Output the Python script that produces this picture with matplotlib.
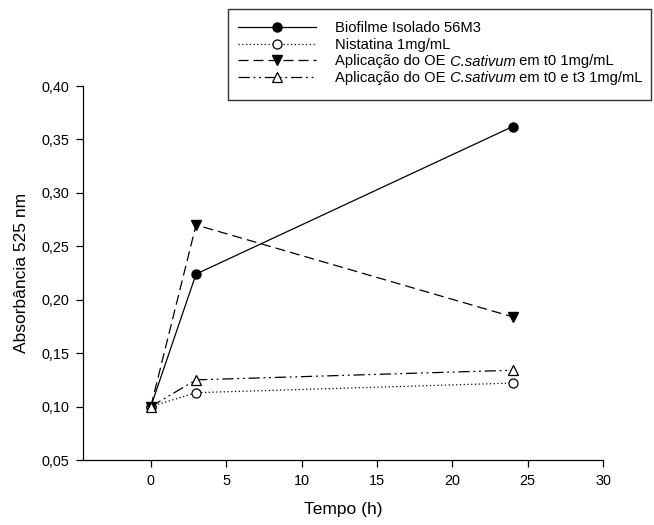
import matplotlib
matplotlib.use("Agg")
import matplotlib.pyplot as plt
from matplotlib.ticker import FuncFormatter
from matplotlib.lines import Line2D
from matplotlib.patches import Rectangle

plt.rcParams['font.family'] = ['Liberation Sans', 'DejaVu Sans']

# Time points (h)
tempo = [0, 3, 24]

# Absorbance at 525 nm for each treatment
biofilme = [0.100, 0.224, 0.362]
nistatina = [0.100, 0.113, 0.122]
oe_t0 = [0.100, 0.270, 0.184]
oe_t0_t3 = [0.100, 0.125, 0.134]

# Legend labels: (plain prefix, italic species name, plain suffix)
labels = [
    ("Biofilme Isolado 56M3", "", ""),
    ("Nistatina 1mg/mL", "", ""),
    ("Aplicação do OE", " C.sativum", " em t0 1mg/mL"),
    ("Aplicação do OE", " C.sativum", " em t0 e t3 1mg/mL"),
]

xticks = [0, 5, 10, 15, 20, 25, 30]
yticks = [0.05, 0.10, 0.15, 0.20, 0.25, 0.30, 0.35, 0.40]

W, H = 654, 525
fig = plt.figure(figsize=(W / 100, H / 100), dpi=100)
ax = fig.add_axes([83 / W, 1 - 460 / H, (603 - 83) / W, (460 - 86) / H])

lw = 0.9
ms = 6.5
styles = [
    dict(color='black', lw=lw, ls='-', marker='o', ms=ms, mfc='black', mec='black'),
    dict(color='black', lw=lw, ls=(0, (1, 2)), marker='o', ms=ms, mfc='white',
         mec='black', mew=0.9),
    dict(color='black', lw=lw, ls=(0, (8, 4)), marker='v', ms=ms + 0.5,
         mfc='black', mec='black'),
    dict(color='black', lw=lw, ls=(0, (9, 3, 1.5, 3, 1.5, 3)), marker='^',
         ms=ms + 0.5, mfc='white', mec='black', mew=0.9),
]
series = [biofilme, nistatina, oe_t0, oe_t0_t3]

for vals, st in zip(series, styles):
    ax.plot(tempo, vals, clip_on=False, zorder=3, **st)

ax.set_xlim(-4.5, 30)
ax.set_ylim(0.05, 0.40)
ax.set_xticks(xticks)
ax.set_yticks(yticks)
ax.yaxis.set_major_formatter(FuncFormatter(lambda v, p: f"{v:.2f}".replace('.', ',')))

for side in ('top', 'right'):
    ax.spines[side].set_visible(False)
for side in ('left', 'bottom'):
    ax.spines[side].set_linewidth(0.9)

ax.tick_params(direction='out', length=5, width=0.9, labelsize=10.4, pad=5)

ax.set_xlabel("Tempo (h)", fontsize=12.5, labelpad=10)
ax.set_ylabel("Absorbância 525 nm", fontsize=12.5, labelpad=9)


# Legend box drawn in figure pixel coordinates
def fx(px):
    return px / W


def fy(py):
    return 1 - py / H


fig.add_artist(Rectangle((fx(228), fy(100)), fx(651) - fx(228), fy(9) - fy(100),
                         transform=fig.transFigure, fill=True, facecolor='white',
                         edgecolor='#333333', lw=1.0, zorder=5))

renderer = fig.canvas.get_renderer()
row_y = [27, 43.5, 60, 76.5]
for (pre, ital, suf), st, ry in zip(labels, styles, row_y):
    line_kw = {k: v for k, v in st.items() if k in ('color', 'lw', 'ls')}
    fig.add_artist(Line2D([fx(238), fx(316)], [fy(ry), fy(ry)],
                          transform=fig.transFigure, zorder=6, **line_kw))
    mk_kw = {k: v for k, v in st.items() if k not in ('lw', 'ls')}
    fig.add_artist(Line2D([fx(277)], [fy(ry)], transform=fig.transFigure,
                          ls='none', zorder=7, **mk_kw))
    x = fx(335)
    for part, style in ((pre, 'normal'), (ital, 'italic'), (suf, 'normal')):
        if not part:
            continue
        t = fig.text(x, fy(ry), part, fontsize=10.6, style=style,
                     va='center_baseline', ha='left', zorder=8)
        bb = t.get_window_extent(renderer)
        x = bb.x1 / W

fig.savefig("out.png", dpi=100)
